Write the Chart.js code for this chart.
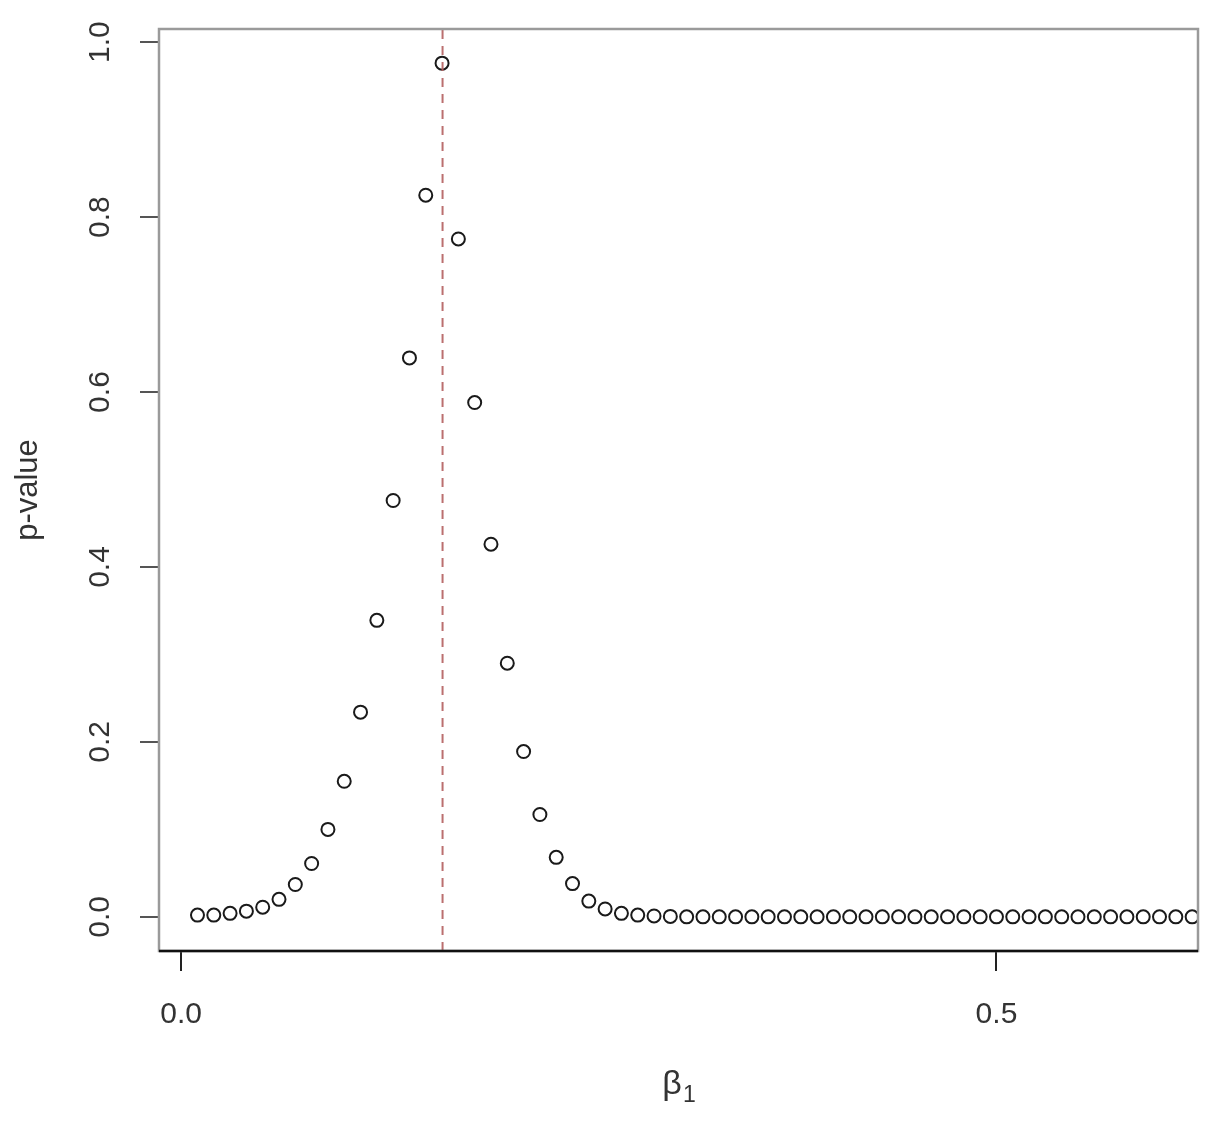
<!DOCTYPE html>
<html>
<head>
<meta charset="utf-8">
<title>p-value vs beta1</title>
<script src="https://cdn.jsdelivr.net/npm/chart.js@4/dist/chart.umd.min.js"></script>
<style>
  html, body { margin: 0; padding: 0; background: #fff; }
  #wrap { width: 1223px; height: 1126px; }
</style>
</head>
<body>
<div id="wrap"><canvas id="grafico" width="1223" height="1126"></canvas></div>
<script>
// valores de beta1 probados (paso 0.01)
const betas = [
  0.01, 0.02, 0.03, 0.04, 0.05, 0.06, 0.07, 0.08, 0.09, 0.10,
  0.11, 0.12, 0.13, 0.14, 0.15, 0.16, 0.17, 0.18, 0.19, 0.20,
  0.21, 0.22, 0.23, 0.24, 0.25, 0.26, 0.27, 0.28, 0.29, 0.30,
  0.31, 0.32, 0.33, 0.34, 0.35, 0.36, 0.37, 0.38, 0.39, 0.40,
  0.41, 0.42, 0.43, 0.44, 0.45, 0.46, 0.47, 0.48, 0.49, 0.50,
  0.51, 0.52, 0.53, 0.54, 0.55, 0.56, 0.57, 0.58, 0.59, 0.60,
  0.61, 0.62
];
// p-valores
const pValores = [
  0.002, 0.002, 0.004, 0.0065, 0.011, 0.020, 0.037, 0.061, 0.100, 0.155,
  0.234, 0.339, 0.476, 0.639, 0.825, 0.976, 0.775, 0.588, 0.426, 0.290,
  0.189, 0.117, 0.068, 0.038, 0.018, 0.009, 0.004, 0.002, 0.001, 0.0005,
  0, 0, 0, 0, 0, 0, 0, 0, 0, 0,
  0, 0, 0, 0, 0, 0, 0, 0, 0, 0,
  0, 0, 0, 0, 0, 0, 0, 0, 0, 0,
  0, 0
];
const betaEstimado = 0.1603;    // línea vertical discontinua
const xLimites = [0.01, 0.60];  // xlim de la gráfica original
const xTicks = [0.0, 0.5];
const yTicks = [0.0, 0.2, 0.4, 0.6, 0.8, 1.0];

// rango al estilo R (4% extra a cada lado)
function expandir(lim) {
  const d = (lim[1] - lim[0]) * 0.04;
  return [lim[0] - d, lim[1] + d];
}
const xRango = expandir(xLimites);
const yRango = expandir([Math.min(...pValores), Math.max(...pValores)]);

const FUENTE = '"Liberation Sans", Arial, sans-serif';

// caja gris, etiquetas del eje y giradas y título del eje x con subíndice
const estiloR = {
  id: 'estiloR',
  afterDraw(chart) {
    const { ctx, chartArea: a, scales } = chart;
    ctx.save();
    ctx.strokeStyle = '#9a9a9a';
    ctx.lineWidth = 2.5;
    ctx.strokeRect(a.left, a.top, a.right - a.left, a.bottom - a.top);
    ctx.strokeStyle = '#111';
    ctx.lineWidth = 2.5;
    ctx.beginPath();
    ctx.moveTo(a.left, a.bottom);
    ctx.lineTo(a.right, a.bottom);
    ctx.stroke();

    // etiquetas del eje y
    ctx.fillStyle = '#333';
    ctx.font = '30px ' + FUENTE;
    ctx.textAlign = 'center';
    ctx.textBaseline = 'middle';
    scales.y.ticks.forEach(t => {
      const py = scales.y.getPixelForValue(t.value);
      ctx.save();
      ctx.translate(101, py);
      ctx.rotate(-Math.PI / 2);
      ctx.fillText(t.value.toFixed(1), 0, 0);
      ctx.restore();
    });

    // título eje y
    ctx.save();
    ctx.translate(28, (a.top + a.bottom) / 2);
    ctx.rotate(-Math.PI / 2);
    ctx.font = '31px ' + FUENTE;
    ctx.fillText('p-value', 0, 0);
    ctx.restore();

    // título eje x: beta con subíndice 1
    const cx = (a.left + a.right) / 2;
    ctx.textAlign = 'left';
    ctx.textBaseline = 'alphabetic';
    ctx.font = '34px ' + FUENTE;
    const wb = ctx.measureText('β').width;
    ctx.font = '23px ' + FUENTE;
    const w1 = ctx.measureText('1').width;
    const x0 = cx - (wb + w1) / 2;
    ctx.font = '34px ' + FUENTE;
    ctx.fillText('β', x0, 1094);
    ctx.font = '23px ' + FUENTE;
    ctx.fillText('1', x0 + wb + 1, 1102);
    ctx.restore();
  }
};

new Chart(document.getElementById('grafico'), {
  type: 'scatter',
  data: {
    datasets: [
      {
        label: 'beta estimado',
        type: 'line',
        data: [{ x: betaEstimado, y: yRango[0] }, { x: betaEstimado, y: yRango[1] }],
        borderColor: 'rgba(180, 95, 95, 0.9)',
        borderWidth: 2,
        borderDash: [9, 7],
        pointRadius: 0,
        fill: false,
        order: 0
      },
      {
        label: 'p-value',
        data: betas.map((b, i) => ({ x: b, y: pValores[i] })),
        pointStyle: 'circle',
        pointRadius: 6.5,
        pointBorderWidth: 2,
        borderColor: '#1a1a1a',
        backgroundColor: 'rgba(0,0,0,0)',
        clip: 0,
        order: 1
      }
    ]
  },
  options: {
    responsive: false,
    animation: false,
    layout: { padding: { top: 29, right: 25, left: 0, bottom: 0 } },
    plugins: {
      legend: { display: false },
      tooltip: { enabled: false }
    },
    scales: {
      x: {
        type: 'linear',
        min: xRango[0],
        max: xRango[1],
        afterBuildTicks: s => { s.ticks = xTicks.map(v => ({ value: v })); },
        afterFit: s => { s.height = 175; },
        border: { display: false },
        grid: {
          drawOnChartArea: false,
          drawTicks: true,
          tickLength: 20,
          tickColor: '#222',
          lineWidth: 2
        },
        ticks: {
          padding: 26,
          color: '#333',
          font: { family: FUENTE, size: 30 },
          callback: v => v.toFixed(1),
          maxRotation: 0
        }
      },
      y: {
        type: 'linear',
        min: yRango[0],
        max: yRango[1],
        afterBuildTicks: s => { s.ticks = yTicks.map(v => ({ value: v })); },
        afterFit: s => { s.width = 159; },
        border: { display: false },
        grid: {
          drawOnChartArea: false,
          drawTicks: true,
          tickLength: 19,
          tickColor: '#555',
          lineWidth: 2
        },
        ticks: { display: false }
      }
    }
  },
  plugins: [estiloR]
});
</script>
</body>
</html>
